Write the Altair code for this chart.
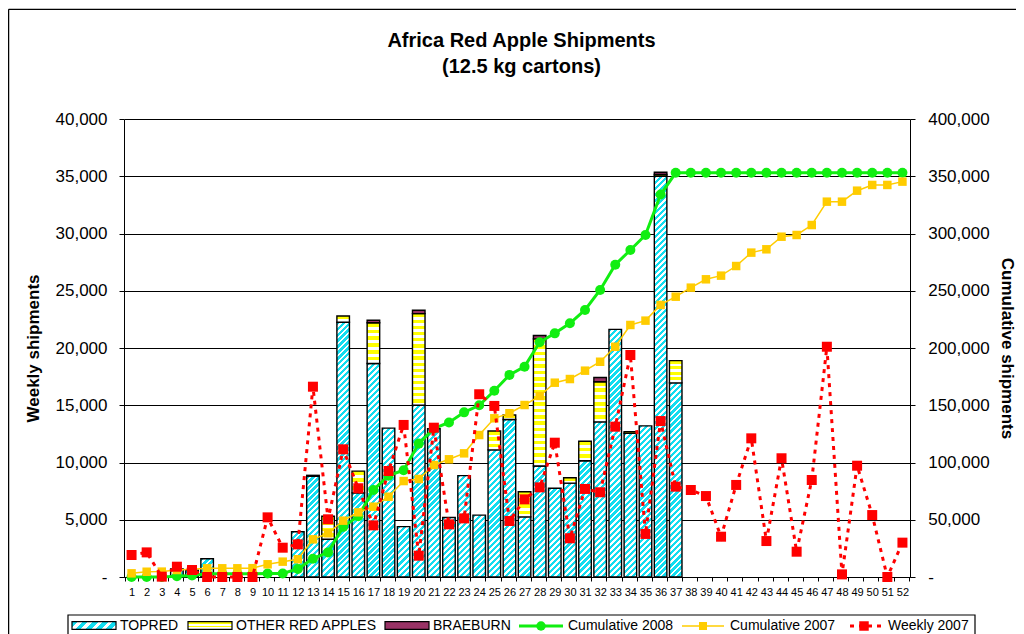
import altair as alt
import pandas as pd

# ---------------- data ----------------
weeks = list(range(1, 53))

topred = [0, 0, 0, 700, 600, 1600, 0, 0, 0, 0, 0, 3950, 8800, 3300, 22250, 7350,
          18650, 13000, 4400, 15000, 12950, 5200, 8850, 5400, 11100, 13750, 5250,
          9700, 7750, 8200, 10150, 13550, 21630, 12550, 13200, 35000, 16950] + [0] * 15
other = [0, 0, 0, 0, 0, 0, 0, 0, 0, 0, 0, 0, 0, 2000, 550, 1900,
         3550, 0, 0, 8000, 0, 0, 0, 0, 1650, 400, 2200,
         11100, 0, 470, 1700, 3500, 0, 150, 0, 150, 1950] + [0] * 15
braeburn = [0, 0, 0, 0, 0, 0, 0, 0, 0, 0, 0, 0, 80, 0, 0, 0,
            230, 0, 0, 300, 0, 0, 0, 0, 0, 0, 0,
            290, 0, 0, 0, 380, 0, 0, 0, 200, 0] + [0] * 15

cum2008 = [0, 0, 0, 700, 1300, 2900, 2900, 2900, 2900, 3000, 3100, 7000, 16000,
           21500, 43800, 53000, 76000, 88500, 93200, 116500, 129700, 135000,
           143800, 150000, 162700, 176500, 183700, 205000, 212800, 221600,
           233200, 250700, 272700, 285600, 298700, 334000, 353000] + [353000] * 15

cum2007 = [3200, 4600, 4700, 6100, 6700, 7600, 7600, 7600, 7700, 11100, 13400,
           15500, 32900, 38200, 49200, 56500, 61400, 70100, 83800, 85600, 97800,
           102800, 108000, 124000, 138600, 143000, 150200, 158100, 169700, 172900,
           180200, 188000, 201100, 220100, 223900, 237600, 244800, 252700, 260000,
           263200, 271600, 283300, 286200, 297200, 298700, 307400, 327800, 327800,
           337400, 342400, 342400, 345300]

weekly2007 = [1920, 2150, 30, 900, 610, 0, 0, 0, 0, 5210, 2560, 2850, 16620, 5040,
              11150, 7750, 4510, 9260, 13280, 1860, 13040, 4600, 5120, 15960, 14940,
              4890, 6780, 7830, 11730, 3380, 7690, 7400, 13130, 19390, 3760, 13620,
              7890, 7600, 7070, 3520, 8040, 12110, 3140, 10370, 2210, 8470, 20110,
              230, 9720, 5410, 0, 3000]

title_lines = ["Africa Red Apple Shipments", "(12.5 kg cartons)"]
legend_labels = ["TOPRED", "OTHER RED APPLES", "BRAEBURN",
                 "Cumulative 2008", "Cumulative 2007", "Weekly 2007"]

df = pd.DataFrame({
    "week": weeks, "topred": topred, "other": other, "braeburn": braeburn,
    "cum2008": cum2008, "cum2007": cum2007, "weekly2007": weekly2007,
})
df["base"] = 0
df["o_hi"] = df["topred"] + df["other"]
df["b_hi"] = df["o_hi"] + df["braeburn"]

# ---------------- style ----------------
FONT = "Liberation Sans"
W, H = 786, 458
PI = 0.17
STEP = W / 52.0
BW = STEP * (1 - PI)
YMAX_L, YMAX_R = 40000, 400000
CYAN, YELLOW, PLUM = "#12DDF0", "#FFFF00", "#993366"
GREEN, GOLD, RED = "#11EE11", "#FFCC00", "#FF0000"


def stripes(n, c1, c2, frac, x2, y2):
    stops = []
    for i in range(n):
        a, b, c = i / n, (i + frac) / n, (i + 1) / n
        stops += [alt.GradientStop(offset=a, color=c1), alt.GradientStop(offset=b, color=c1),
                  alt.GradientStop(offset=b, color=c2), alt.GradientStop(offset=c, color=c2)]
    return alt.LinearGradient(gradient="linear", stops=stops, x1=0, y1=0, x2=x2, y2=y2)


def diag(w, h, period):
    r = h / w
    s = (1 + r) / (1 + r * r)
    n = max(1, round((w + h) / period))
    return stripes(n, CYAN, "#FFFFFF", 0.55, s, s * r)


def horiz(h, period):
    n = max(1, round(h / period))
    return stripes(n, YELLOW, "#FFFFFF", 0.56, 0, 1)


xscale = alt.Scale(paddingInner=PI, paddingOuter=PI / 2)
x_axis = alt.Axis(title=None, labelAngle=0, labelFontSize=11, labelColor="black",
                  labelFont=FONT, tickBand="extent", tickSize=4, tickColor="black",
                  domainColor="black", labelPadding=5, grid=False)
yl_scale = alt.Scale(domain=[0, YMAX_L], nice=False)
yr_scale = alt.Scale(domain=[0, YMAX_R], nice=False)

left_axis = alt.Axis(
    title="Weekly shipments", orient="left", values=list(range(0, YMAX_L + 1, 5000)),
    labelExpr="datum.value == 0 ? '-\u00a0\u00a0\u00a0\u00a0' : format(datum.value, ',')",
    labelFontSize=17, labelFont=FONT, labelColor="black", labelPadding=12,
    tickSize=5, tickColor="black", domainColor="black", grid=True,
    gridColor="black", gridWidth=1, titleFontSize=17, titleFont=FONT,
    titleFontWeight="bold", titleColor="black", titleX=-91, titleY=H / 2,
    titleAngle=270, titleAlign="center", titleBaseline="middle")
right_axis = alt.Axis(
    title="Cumulative shipments", orient="right", values=list(range(0, YMAX_R + 1, 50000)),
    labelExpr="datum.value == 0 ? '-' : format(datum.value, ',')",
    labelFontSize=17, labelFont=FONT, labelColor="black", labelPadding=12.7,
    tickSize=5, tickColor="black", domainColor="black", grid=False,
    titleFontSize=17, titleFont=FONT, titleFontWeight="bold", titleColor="black",
    titleX=96, titleY=H / 2, titleAngle=90, titleAlign="center", titleBaseline="middle")

base = alt.Chart(df)
# x is a shared scale: only the carrier sets the axis, the others leave it at default
xe = alt.X("week:O", scale=xscale)

# ---------------- axis carriers (invisible) ----------------
ax_left = base.mark_point(opacity=0).encode(
    x=alt.X("week:O", scale=xscale, axis=x_axis),
    y=alt.Y("weekly2007:Q", scale=yl_scale, axis=left_axis))
ax_right = base.mark_point(opacity=0).encode(
    x=xe, y=alt.Y("cum2008:Q", scale=yr_scale, axis=right_axis))

# ---------------- bars (one layer per segment, hatched fills) ----------------
bar_layers = []
segments = [("topred", "base", "topred"), ("other", "topred", "o_hi"), ("braeburn", "o_hi", "b_hi")]
for i, wk in enumerate(weeks):
    for name, lo, hi in segments:
        val = df[name][i]
        if val <= 0:
            continue
        hpx = val / YMAX_L * H
        if name == "topred":
            fill = diag(BW, hpx, 6.0)
        elif name == "other":
            fill = horiz(hpx, 6.3) if hpx > 4 else YELLOW
        else:
            fill = PLUM
        bar_layers.append(
            base.transform_filter(alt.datum.week == wk).mark_bar(
                fill=fill, stroke="black", strokeWidth=1.4
            ).encode(
                x=xe,
                y=alt.Y(f"{lo}:Q", scale=yl_scale, axis=None),
                y2=alt.Y2(f"{hi}:Q"),
            )
        )

# ---------------- lines ----------------
c08_line = base.mark_line(color=GREEN, strokeWidth=3).encode(
    x=xe, y=alt.Y("cum2008:Q", scale=yr_scale, axis=None))
c08_pts = base.mark_point(shape="circle", filled=True, opacity=1, size=100, color=GREEN).encode(
    x=xe, y=alt.Y("cum2008:Q", scale=yr_scale, axis=None))
c07_line = base.mark_line(color=GOLD, strokeWidth=1.5).encode(
    x=xe, y=alt.Y("cum2007:Q", scale=yr_scale, axis=None))
c07_pts = base.mark_point(shape="square", filled=True, opacity=1, size=72, color=GOLD).encode(
    x=xe, y=alt.Y("cum2007:Q", scale=yr_scale, axis=None))
w07_line = base.mark_line(color=RED, strokeWidth=3, strokeDash=[4, 5]).encode(
    x=xe, y=alt.Y("weekly2007:Q", scale=yl_scale, axis=None))
w07_pts = base.mark_point(shape="square", filled=True, opacity=1, size=100, color=RED).encode(
    x=xe, y=alt.Y("weekly2007:Q", scale=yl_scale, axis=None))

# ---------------- title, frame, legend ----------------
one = alt.Chart(pd.DataFrame({"k": [0]}))
title1 = one.mark_text(text=title_lines[0], font=FONT, fontSize=20, fontWeight="bold",
                       align="center", baseline="alphabetic", color="black").encode(
    x=alt.value(397.5), y=alt.value(-72.3))
title2 = one.mark_text(text=title_lines[1], font=FONT, fontSize=20, fontWeight="bold",
                       align="center", baseline="alphabetic", color="black").encode(
    x=alt.value(397.5), y=alt.value(-46.5))
frame_left = one.mark_rule(color="black", strokeWidth=1.3).encode(
    x=alt.value(-115.4), y=alt.value(-109.7), y2=alt.value(600))
frame_top = one.mark_rule(color="black", strokeWidth=1.3).encode(
    x=alt.value(-115.4), x2=alt.value(1000), y=alt.value(-109.7))
lbox = one.mark_rect(fill="white", stroke="black", strokeWidth=1.2).encode(
    x=alt.value(-56), x2=alt.value(851), y=alt.value(496), y2=alt.value(540))

LY = 507
sw_y, sw_y2 = 502.7, 510.3
sw_topred = one.mark_rect(fill=diag(44, 7.6, 10), stroke="black", strokeWidth=1.2).encode(
    x=alt.value(-52), x2=alt.value(-8), y=alt.value(sw_y), y2=alt.value(sw_y2))
sw_other = one.mark_rect(fill=stripes(2, YELLOW, "#FFFFFF", 0.5, 0, 1), stroke="black",
                         strokeWidth=1.2).encode(
    x=alt.value(64), x2=alt.value(108), y=alt.value(sw_y), y2=alt.value(sw_y2))
sw_brae = one.mark_rect(fill=PLUM, stroke="black", strokeWidth=1.2).encode(
    x=alt.value(261), x2=alt.value(305), y=alt.value(sw_y), y2=alt.value(sw_y2))
lg_c08 = one.mark_rule(color=GREEN, strokeWidth=3).encode(
    x=alt.value(395), x2=alt.value(439), y=alt.value(LY))
lg_c08p = one.mark_point(shape="circle", filled=True, opacity=1, size=90, color=GREEN).encode(
    x=alt.value(417), y=alt.value(LY))
lg_c07 = one.mark_rule(color=GOLD, strokeWidth=1.5).encode(
    x=alt.value(558), x2=alt.value(600), y=alt.value(LY))
lg_c07p = one.mark_point(shape="square", filled=True, opacity=1, size=64, color=GOLD).encode(
    x=alt.value(579), y=alt.value(LY))
lg_w07 = one.mark_rule(color=RED, strokeWidth=3, strokeDash=[4, 5]).encode(
    x=alt.value(726), x2=alt.value(761), y=alt.value(LY))
lg_w07p = one.mark_point(shape="square", filled=True, opacity=1, size=90, color=RED).encode(
    x=alt.value(740), y=alt.value(LY))

legend_text_x = [-4, 112, 309, 444, 606, 764]
lg_texts = [
    one.mark_text(text=t, font=FONT, fontSize=14, align="left", baseline="middle",
                  color="black").encode(x=alt.value(xx), y=alt.value(LY))
    for t, xx in zip(legend_labels, legend_text_x)
]

deco = [frame_left, frame_top, title1, title2, lbox, sw_topred, sw_other, sw_brae,
        lg_c08, lg_c08p, lg_c07, lg_c07p, lg_w07, lg_w07p] + lg_texts

chart = alt.layer(
    ax_left, ax_right, *bar_layers, c08_line, c08_pts, c07_line, c07_pts,
    w07_line, w07_pts, *deco
).resolve_scale(y="independent").properties(
    width=W, height=H,
    autosize=alt.AutoSizeParams(type="none"),
    padding={"left": 116, "top": 111, "right": 106, "bottom": 57},
).configure(font=FONT).configure_view(strokeWidth=0)

chart.save("out.html", embed_options={"renderer": "svg", "actions": False})
